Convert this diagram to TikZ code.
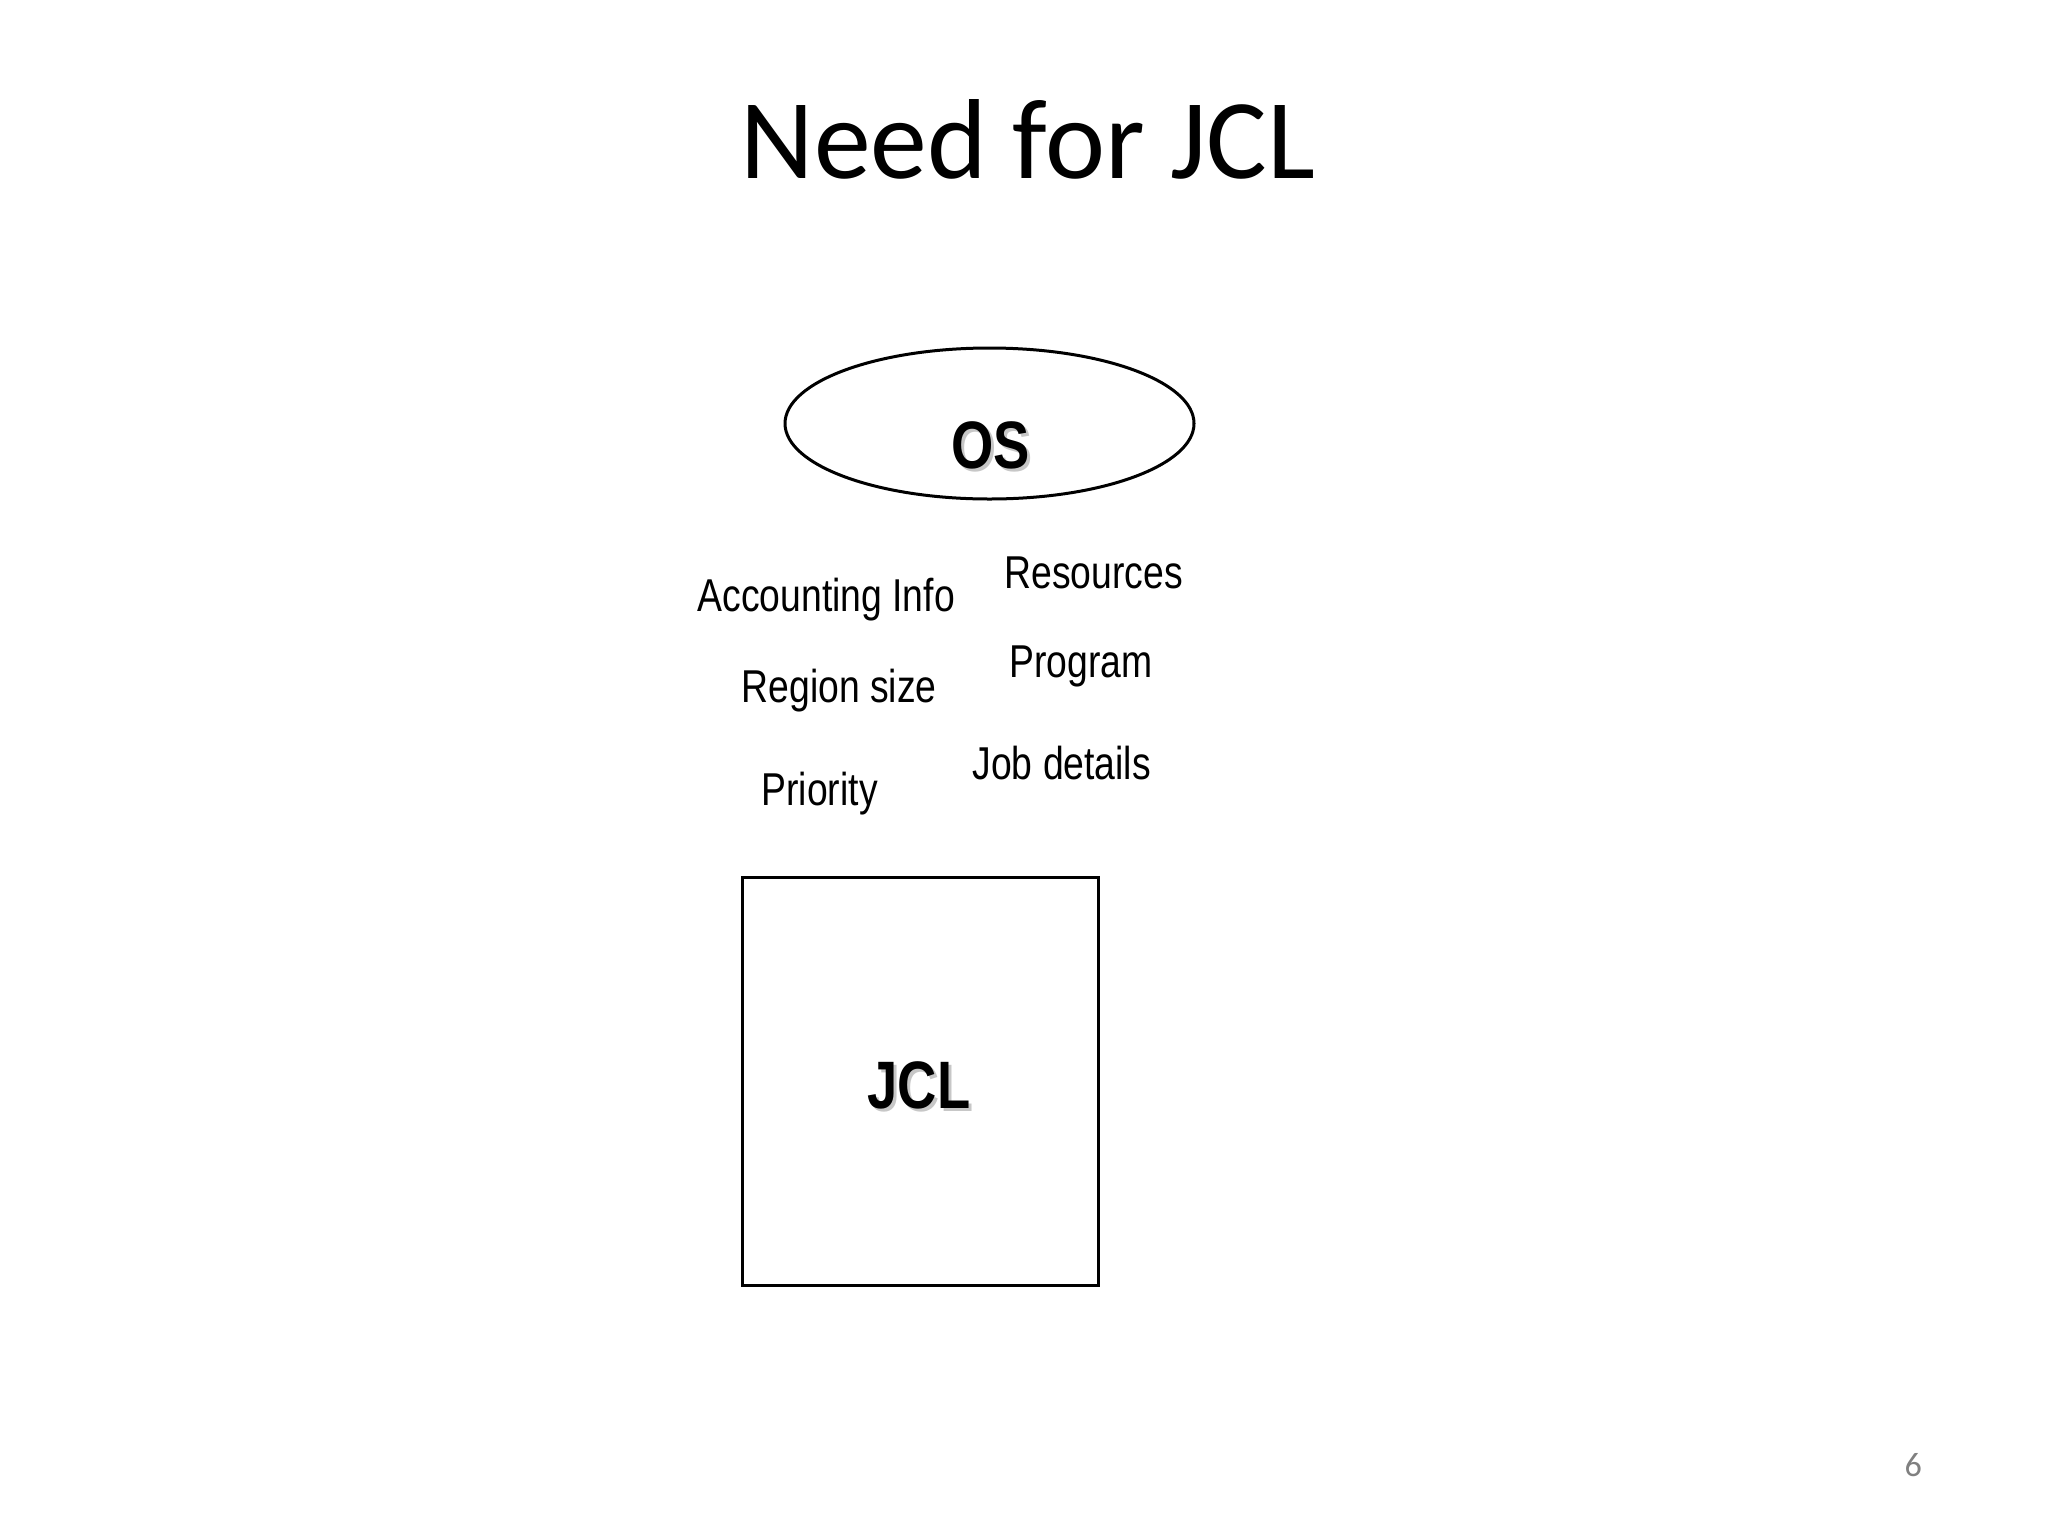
\documentclass[tikz,border=0pt]{standalone}
\usepackage{fontspec}
\setmainfont{Liberation Sans}
\newfontfamily\titlefont{Carlito}
\newfontfamily\narrowfont[FakeStretch=0.81]{Liberation Sans}
\usetikzlibrary{shapes.geometric}
\newlength\pxu
\setlength\pxu{0.3516pt}
\begin{document}
\begin{tikzpicture}[x=0.3516pt,y=-0.3516pt,
  lbl/.style={inner sep=0pt,anchor=base west,font=\narrowfont\fontsize{16.2pt}{19pt}\selectfont},
  big/.style={inner sep=0pt,anchor=base west,font=\narrowfont\bfseries\fontsize{23.6pt}{28pt}\selectfont},
  shadowtxt/.style={big,text=black!22},
  outline/.style={draw=black,line width=3\pxu}]
\useasboundingbox[fill=white] (0,0) rectangle (2048,1536);
% title
\node[inner sep=0pt,anchor=base west,font=\titlefont\fontsize{40pt}{48pt}\selectfont] (title) at (740,178) {Need for JCL};
% OS ellipse
\node[outline,ellipse,minimum width=409\pxu,minimum height=151\pxu,inner sep=0pt] (osell) at (989.5,423.5) {};
\node[shadowtxt] (osshadow) at (954,471) {OS};
\node[big] (os) at (951,468) {OS};
% labels
\node[lbl] (acct) at (697,611) {Accounting Info};
\node[lbl] (res) at (1004,588) {Resources};
\node[lbl] (region) at (741,702) {Region size};
\node[lbl] (prog) at (1009,677) {Program};
\node[lbl] (prio) at (761,805) {Priority};
\node[lbl] (job) at (972,779) {Job details};
% JCL box
\node[outline,rectangle,minimum width=356\pxu,minimum height=408\pxu,inner sep=0pt] (jclbox) at (920,1081) {};
\node[shadowtxt] (jclshadow) at (870,1111) {JCL};
\node[big] (jcl) at (867,1108) {JCL};
% page number
\node[inner sep=0pt,anchor=base west,text=black!50,font=\titlefont\fontsize{12pt}{14pt}\selectfont] (page) at (1904,1476) {6};
\end{tikzpicture}
\end{document}
